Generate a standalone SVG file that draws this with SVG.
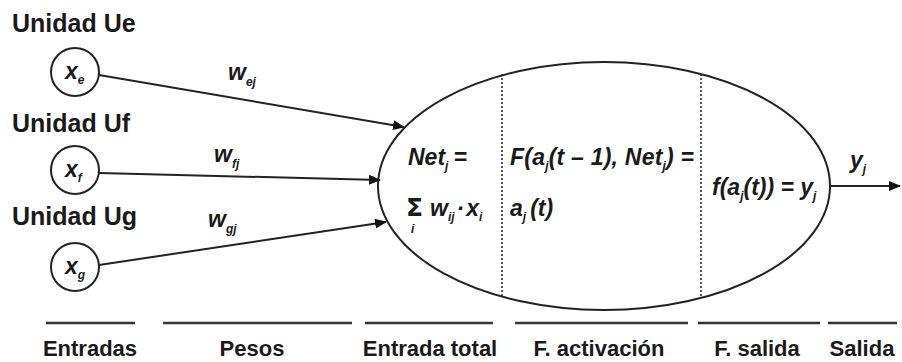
<svg xmlns="http://www.w3.org/2000/svg" width="902" height="362" viewBox="0 0 902 362">
<defs>
<style>
.lbl{font-family:"Liberation Sans",Arial,sans-serif;font-weight:bold;fill:#1a1a1a}
.top{font-size:25px}
.bot{font-size:22px}
.m{font-family:"Liberation Sans",Arial,sans-serif;font-weight:bold;font-style:italic;font-size:23px;fill:#1a1a1a}
.s{font-size:12px}
.ln{stroke:#222;stroke-width:2;fill:none}
.dash{stroke:#222;stroke-width:1.5;stroke-dasharray:2 2;fill:none}
.rule{stroke:#333;stroke-width:2.5}
.sig{font-family:"DejaVu Sans",sans-serif;font-weight:bold;font-size:25px;fill:#1a1a1a}
</style>
<marker id="ah" viewBox="0 0 12 10" refX="11" refY="5" markerWidth="12" markerHeight="10" markerUnits="userSpaceOnUse" orient="auto">
<path d="M0,0 L12,5 L0,10 z" fill="#111"/>
</marker>
</defs>
<rect width="902" height="362" fill="#fff"/>

<g id="labels-units">
<text class="lbl top" x="12" y="32">Unidad Ue</text>
<text class="lbl top" x="12" y="132">Unidad Uf</text>
<text class="lbl top" x="12" y="225">Unidad Ug</text>
</g>

<g id="node-xe">
<circle class="ln" cx="75" cy="72" r="24"/>
<text class="m" x="65" y="79">x<tspan class="s" dy="5">e</tspan></text>
</g>
<g id="node-xf">
<circle class="ln" cx="75" cy="170" r="24"/>
<text class="m" x="65" y="177">x<tspan class="s" dy="5">f</tspan></text>
</g>
<g id="node-xg">
<circle class="ln" cx="75" cy="267" r="24"/>
<text class="m" x="65" y="274">x<tspan class="s" dy="5">g</tspan></text>
</g>

<g id="connectors">
<line class="ln" x1="99" y1="75" x2="404" y2="127" marker-end="url(#ah)"/>
<line class="ln" x1="99" y1="173" x2="380" y2="180" marker-end="url(#ah)"/>
<line class="ln" x1="99" y1="265" x2="386" y2="222" marker-end="url(#ah)"/>
<line class="ln" x1="830" y1="186" x2="900" y2="186" marker-end="url(#ah)"/>
</g>

<g id="weights">
<text class="m" x="228" y="80">w<tspan class="s" dy="6">ej</tspan></text>
<text class="m" x="214" y="162">w<tspan class="s" dy="6">fj</tspan></text>
<text class="m" x="208" y="227">w<tspan class="s" dy="6">gj</tspan></text>
</g>

<g id="node-neuron">
<ellipse class="ln" cx="604" cy="186" rx="226" ry="124"/>
<line class="dash" x1="502" y1="74" x2="502" y2="298"/>
<line class="dash" x1="701" y1="74" x2="701" y2="298"/>
<text class="m" x="408" y="165">Net<tspan class="s" dy="5">j</tspan><tspan dy="-5" dx="5">=</tspan></text>
<text class="sig" x="406" y="216">Σ</text>
<text class="m s" x="411" y="233">i</text>
<text class="m" x="430" y="216">w<tspan class="s" dy="5">ij</tspan><tspan dy="-5" dx="2">·</tspan><tspan dx="2">x</tspan><tspan class="s" dy="5">i</tspan></text>
<text class="m" x="510" y="165" textLength="184" lengthAdjust="spacing">F(a<tspan class="s" dy="5">j</tspan><tspan dy="-5">(t – 1), Net</tspan><tspan class="s" dy="5">j</tspan><tspan dy="-5">) =</tspan></text>
<text class="m" x="510" y="216">a<tspan class="s" dy="5">j</tspan><tspan dy="-5" dx="4">(t)</tspan></text>
<text class="m" x="712" y="195">f(a<tspan class="s" dy="5">j</tspan><tspan dy="-5">(t)) = y</tspan><tspan class="s" dy="5">j</tspan></text>
</g>

<g id="output">
<text class="m" x="850" y="168">y<tspan class="s" dy="5">j</tspan></text>
</g>

<g id="footer">
<line class="rule" x1="46" y1="323" x2="135" y2="323"/>
<line class="rule" x1="163" y1="323" x2="352" y2="323"/>
<line class="rule" x1="365" y1="323" x2="493" y2="323"/>
<line class="rule" x1="515" y1="323" x2="688" y2="323"/>
<line class="rule" x1="698" y1="323" x2="820" y2="323"/>
<line class="rule" x1="828" y1="323" x2="897" y2="323"/>
<text class="lbl bot" x="90" y="356" text-anchor="middle">Entradas</text>
<text class="lbl bot" x="252" y="356" text-anchor="middle">Pesos</text>
<text class="lbl bot" x="430" y="356" text-anchor="middle">Entrada total</text>
<text class="lbl bot" x="599" y="356" text-anchor="middle">F. activación</text>
<text class="lbl bot" x="757" y="356" text-anchor="middle">F. salida</text>
<text class="lbl bot" x="862" y="356" text-anchor="middle">Salida</text>
</g>
</svg>
